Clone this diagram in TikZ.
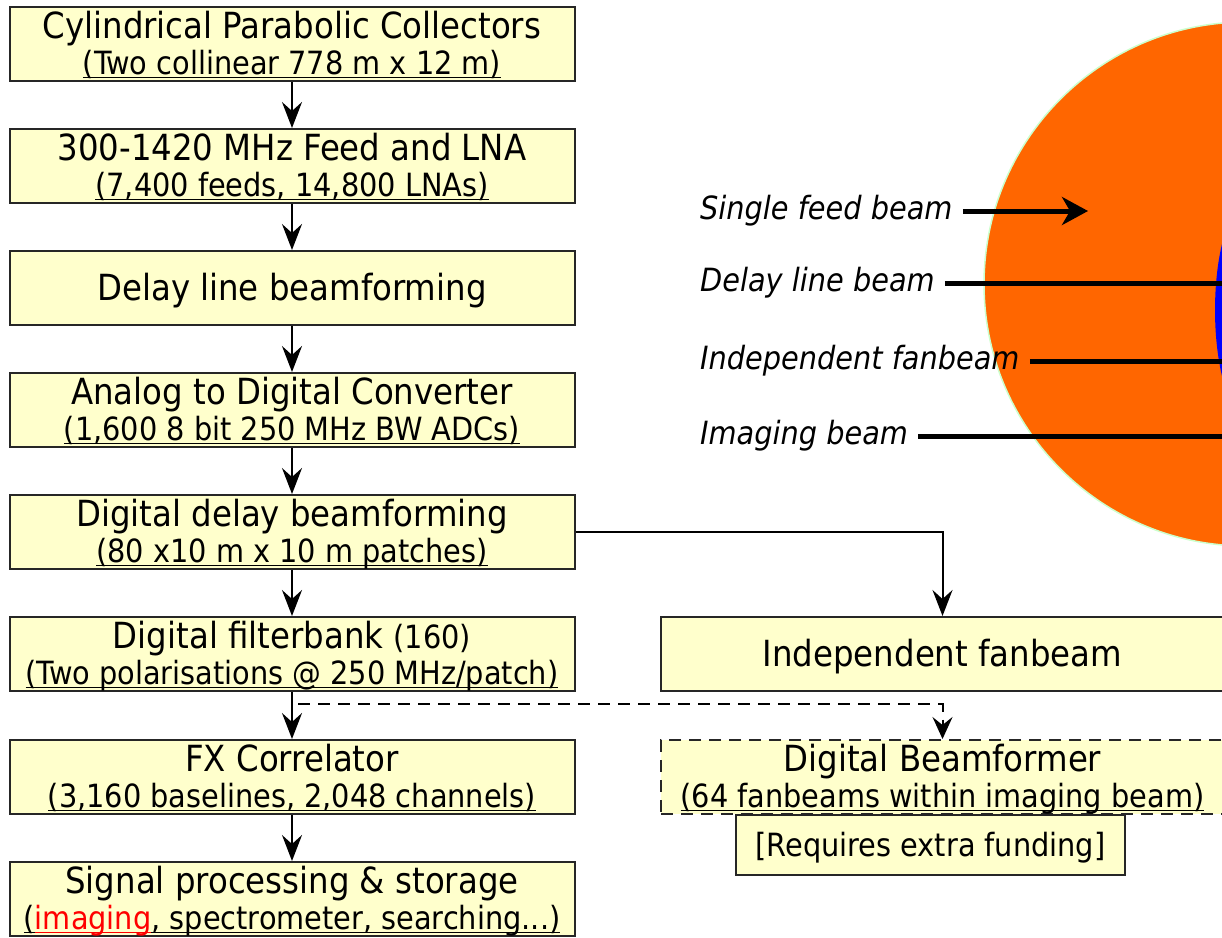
\documentclass[tikz,border=0pt]{standalone}
\usepackage{fontspec}
\setmainfont{DejaVu Sans Condensed}
\usetikzlibrary{arrows.meta}
\definecolor{boxfill}{HTML}{FFFFCC}
\definecolor{beamorange}{HTML}{FF6600}
\definecolor{rimgreen}{HTML}{CCFFCC}
\newcommand{\uln}[1]{\setbox0\hbox{#1}\rlap{\rule[-3.5pt]{\wd0}{1.5pt}}\box0}
\newcommand{\subsize}{\fontsize{32}{36}\selectfont}
\newcommand{\subt}[1]{{\subsize\uln{#1}}}
\tikzset{
  box/.style={draw=black!85, line width=2pt, fill=boxfill, inner sep=0pt,
    minimum width=565pt, minimum height=74pt, align=center, text depth=2pt,
    font=\fontsize{36}{36}\selectfont},
  rbox/.style={box, minimum width=563pt},
  arr/.style={line width=2pt, -{Stealth[length=26pt,width=20pt,inset=9pt]}},
  darr/.style={line width=2pt, dash pattern=on 12pt off 8pt,
    -{Stealth[length=22pt,width=20pt,inset=8pt]}},
  blabel/.style={anchor=west, inner sep=0pt, font=\fontsize{32}{36}\selectfont\itshape},
  beamline/.style={line width=5pt, shorten <=10pt},
}
\begin{document}
\begin{tikzpicture}[x=1pt,y=-1pt]
\useasboundingbox (0,0) rectangle (1222,937);
\clip (0,0) rectangle (1222,937);
% beam picture
\fill[beamorange] (1246,284) circle [radius=262pt];
\draw[rimgreen, line width=1.5pt] (1246,284) circle [radius=262pt];
\fill[blue] (1250,310) ellipse [x radius=35pt, y radius=110pt];
\node[blabel] (l1) at (700,211) {Single feed beam};
\node[blabel] (l2) at (700,283) {Delay line beam};
\node[blabel] (l3) at (700,361) {Independent fanbeam};
\node[blabel] (l4) at (700,436) {Imaging beam};
\coordinate (e1) at (1088,211);
\coordinate (e2) at (1230,283);
\coordinate (e3) at (1230,361);
\coordinate (e4) at (1230,436);
\draw[beamline, -{Stealth[length=26pt,width=28pt,inset=8pt]}] (l1.east) -- (e1);
\draw[beamline] (l2.east) -- (e2);
\draw[beamline] (l3.east) -- (e3);
\draw[beamline] (l4.east) -- (e4);
% left chain
\node[box] (b1) at (292,44) {Cylindrical Parabolic Collectors\\\subt{(Two collinear 778 m x 12 m)}};
\node[box] (b2) at (292,166) {300-1420 MHz Feed and LNA\\\subt{(7,400 feeds, 14,800 LNAs)}};
\node[box] (b3) at (292,288) {Delay line beamforming};
\node[box] (b4) at (292,410) {Analog to Digital Converter\\\subt{(1,600 8 bit 250 MHz BW ADCs)}};
\node[box] (b5) at (292,532) {Digital delay beamforming\\\subt{(80 x10 m x 10 m patches)}};
\node[box] (b6) at (292,654) {Digital filterbank {\subsize(160)}\\\subt{(Two polarisations @ 250 MHz/patch)}};
\node[box] (b7) at (292,777) {FX Correlator\\\subt{(3,160 baselines, 2,048 channels)}};
\node[box] (b8) at (292,899) {Signal processing \& storage\\{\subsize\uln{(}\textcolor{red}{\uln{imaging}}\uln{, spectrometer, searching...)}}};
% right boxes
\node[rbox] (fan) at (942.5,654) {Independent fanbeam};
\node[rbox, dash pattern=on 12pt off 8pt] (dbf) at (942.5,777) {Digital Beamformer\\\subt{(64 fanbeams within imaging beam)}};
\node[box, minimum width=389pt, minimum height=60pt, font=\fontsize{32}{36}\selectfont] (req) at (930.5,845) {[Requires extra funding]};
% connectors
\draw[arr] (b1.south) -- (b2.north);
\draw[arr] (b2.south) -- (b3.north);
\draw[arr] (b3.south) -- (b4.north);
\draw[arr] (b4.south) -- (b5.north);
\draw[arr] (b5.south) -- (b6.north);
\draw[arr] (b6.south) -- (b7.north);
\draw[arr] (b7.south) -- (b8.north);
\draw[arr] (b5.east) -| (fan.north);
\coordinate (ds) at (298,704);
\draw[darr] (ds) -| (dbf.north);
\end{tikzpicture}
\end{document}
